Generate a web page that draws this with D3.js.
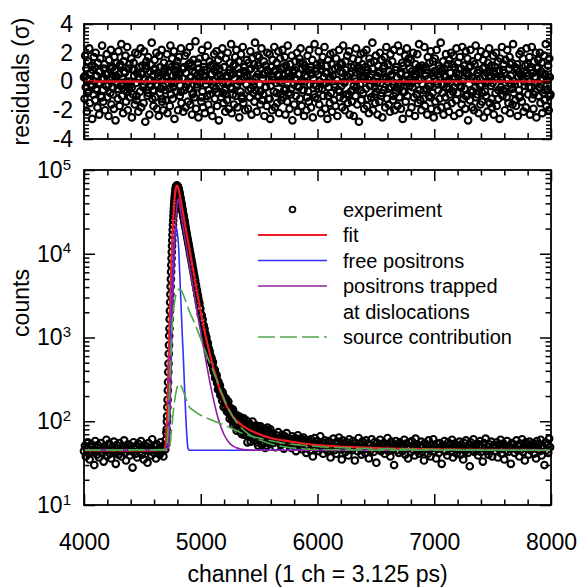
<!DOCTYPE html>
<html>
<head>
<meta charset="utf-8">
<script src="https://cdn.jsdelivr.net/npm/d3@7"></script>
<style>
  body { margin: 0; background: #fff; }
  svg { display: block; font-family: "Liberation Sans", Arial, sans-serif; }
</style>
</head>
<body>
<svg id="chart" width="577" height="588"></svg>
<script>
// residuals (sigma), one every 5 channels from 4000
const resStart = 4000, resStep = 5;
const residuals = [
0.3,-1.2,1.8,-0.4,0.9,-2.1,0.1,1.4,-0.7,2.3,-1.5,0.6,-0.2,1.1,-2.6,0.8,-0.9,1.7,0.0,-1.3,
2.0,-0.5,0.4,-1.8,1.3,-0.1,-2.3,0.7,1.6,-1.0,0.2,2.5,-0.6,-1.4,0.9,1.2,-2.0,0.5,-0.3,1.9,
-1.1,0.6,-2.4,1.5,0.1,-0.8,2.2,-1.6,0.3,1.0,-0.4,-1.9,1.7,0.8,-2.7,0.4,1.3,-0.2,-1.2,2.1,
0.5,-1.7,1.1,-0.3,2.6,-1.0,0.2,-2.2,1.4,0.7,-0.6,1.8,-1.4,0.0,2.4,-2.0,0.9,-0.5,1.2,-1.1,
-0.2,1.6,-2.5,0.8,-0.9,1.3,0.4,-1.6,2.0,-0.1,-1.3,0.6,1.9,-2.1,0.3,1.0,-0.7,2.3,-1.8,0.5,
1.1,-0.4,-1.5,2.1,0.2,-2.8,0.9,1.4,-0.6,-1.0,1.7,0.1,-2.3,0.7,1.2,-0.3,2.7,-1.2,0.4,-1.7,
0.8,1.5,-1.1,-0.2,2.0,-1.9,0.6,0.3,-2.4,1.8,-0.8,1.0,-0.5,2.2,-1.4,0.1,-2.0,1.3,0.9,-0.6,
-1.3,0.4,1.9,-2.2,0.7,-0.1,1.2,-1.7,2.5,-0.9,0.0,1.6,-1.2,-0.4,2.1,-2.6,0.8,1.1,-0.7,0.3,
1.4,-2.0,0.5,1.7,-1.0,-0.3,2.3,-1.5,0.9,0.2,-2.1,1.0,-0.6,1.8,-1.8,0.6,2.0,-0.2,-1.4,1.2,
-0.5,2.4,-1.6,0.3,1.1,-2.3,0.7,-0.8,1.5,-1.1,0.1,2.8,-1.9,0.4,-0.4,1.3,-2.5,0.9,1.6,-0.1,
0.6,-1.4,2.2,-0.7,-1.8,1.0,0.3,-2.2,1.7,-0.2,0.8,-1.0,2.5,-1.6,0.1,1.4,-0.9,-2.0,1.1,0.5,
-2.4,1.2,0.0,1.9,-1.2,0.7,-0.5,2.1,-1.7,0.4,1.5,-2.7,0.9,-0.3,1.8,-1.1,0.2,2.3,-0.8,-1.5,
1.0,-0.6,-2.1,1.6,0.4,-1.3,2.0,-0.1,-1.9,0.8,1.3,-0.4,2.6,-2.2,0.5,-0.9,1.1,-1.6,0.2,1.7,
-1.0,2.2,-0.3,-1.8,0.9,1.4,-2.5,0.6,-0.7,1.9,0.1,-1.2,2.4,-1.5,0.3,1.0,-2.0,0.7,-0.2,1.5,
0.4,-1.9,1.3,0.8,-1.1,2.1,-0.5,-2.3,1.6,0.0,-0.8,1.2,-1.4,2.7,-0.6,0.3,-2.1,1.8,0.5,-1.0,
1.7,-0.2,-1.6,0.9,2.3,-1.3,0.2,-0.9,1.4,-2.4,0.6,1.1,-0.4,-1.7,2.0,0.7,-1.2,0.1,1.9,-2.6,
-0.3,1.0,-2.0,1.5,0.3,-0.7,2.4,-1.8,0.8,-0.1,1.3,-1.5,0.5,2.1,-2.2,0.0,1.6,-0.9,-1.3,0.9,
2.2,-1.1,0.4,-0.6,1.7,-2.3,1.1,0.2,-1.4,2.5,-0.8,0.6,-1.9,1.2,0.3,-0.5,1.8,-2.7,0.7,-0.2,
-1.6,0.8,1.4,-1.0,0.1,2.0,-2.1,0.5,-0.4,1.6,-1.2,2.3,0.0,-1.7,0.9,1.3,-0.6,-2.4,1.1,0.4,
0.9,-2.0,0.3,1.8,-0.7,-1.4,2.2,-0.2,1.0,-1.8,0.6,1.5,-2.5,0.2,-0.9,2.6,-1.1,0.7,-0.3,1.2,
-1.2,0.5,2.1,-1.6,0.0,1.3,-2.2,0.8,-0.5,1.7,-1.0,0.3,2.4,-1.9,0.6,-0.1,1.1,-2.6,1.5,-0.4,
0.2,-1.5,1.9,-0.8,1.2,-2.1,0.4,2.0,-1.3,-0.2,0.9,-1.7,1.6,0.1,-2.4,1.0,-0.6,2.2,-1.1,0.7,
1.3,-0.3,-1.8,0.6,2.5,-1.2,0.0,-2.0,1.4,0.8,-0.9,1.8,-1.5,0.3,2.1,-2.3,0.5,-0.7,1.0,-1.4,
-0.6,1.6,-2.4,1.1,0.2,-1.0,2.3,-0.4,-1.6,0.9,1.5,-2.8,0.7,-0.2,1.9,-1.3,0.4,1.2,-0.8,2.0,
-1.9,0.3,1.0,-0.5,2.2,-1.7,0.8,0.1,-2.2,1.6,-0.3,1.3,-1.1,0.5,2.7,-2.0,0.0,1.4,-0.9,-1.5,
1.8,-0.7,0.4,-2.3,1.1,0.6,-1.4,2.0,-0.1,-1.0,1.5,-2.5,0.9,0.2,-0.6,1.7,-1.8,0.3,2.4,-1.2,
0.0,1.2,-1.6,0.7,-2.1,1.9,-0.4,0.5,1.4,-1.3,-0.2,2.2,-2.0,0.8,-0.8,1.0,0.3,-1.7,2.5,-0.5,
-1.1,2.1,-0.3,-1.9,0.6,1.3,-2.6,1.1,0.0,-0.7,1.8,-1.4,0.4,2.3,-1.0,-0.1,1.6,-2.2,0.9,0.2,
1.5,-1.8,0.7,-0.4,2.0,-1.1,0.3,-2.4,1.2,0.5,-0.9,1.9,-1.5,0.1,2.6,-0.6,-1.3,0.8,-2.0,1.1,
-0.2,0.9,-1.2,2.4,-1.7,0.4,1.0,-0.5,-2.3,1.7,0.2,-1.0,1.3,-0.3,2.1,-1.9,0.6,-0.8,1.4,-2.5,
0.7,1.6,-1.4,0.0,2.2,-2.0,0.5,-0.6,1.1,-1.2,0.3,2.7,-1.8,0.8,-0.2,1.4,-2.3,0.9,0.4,-1.1,
1.9,-0.4,-1.7,1.2,0.1,-2.1,1.5,-0.9,0.6,2.0,-1.5,0.2,-0.7,1.8,-2.4,1.0,0.3,-1.3,2.3,-0.1,
-0.8,1.3,0.5,-2.2,1.7,-0.3,0.9,-1.6,2.4,0.0,-1.2,1.1,-0.5,-1.9,2.1,0.6,-1.0,1.6,-2.7,0.4,
1.0,-1.3,2.2,-0.6,0.3,-1.8,1.4,0.7,-2.0,1.2,-0.4,2.5,-1.1,0.1,-0.9,1.7,-2.2,0.8,0.2,-1.6,
2.1,-0.2,-1.4,0.9,1.5,-2.5,0.4,-0.7,1.9,-1.0,0.6,-2.1,1.3,0.0,2.3,-1.5,0.7,-0.3,1.1,-1.8,
-0.1,1.8,-2.3,0.5,1.0,-0.8,2.0,-1.7,0.2,1.4,-1.2,0.8,-2.6,1.6,-0.4,0.3,2.4,-1.0,-0.6,1.2,
0.6,-2.0,1.5,-0.5,-1.1,2.2,0.1,-1.5,0.9,1.7,-2.2,0.4,-0.2,1.3,-1.6,2.6,-0.8,0.0,1.0,-1.3,
-1.7,0.8,1.2,-2.4,0.3,-0.6,1.9,-1.0,0.5,2.1,-1.4,0.2,1.6,-2.1,0.7,-0.3,1.1,-1.8,2.3,0.4,
1.2,-0.9,0.0,1.7,-2.3,1.0,-0.4,2.4,-1.2,0.6,-1.9,1.4,0.3,-0.7,2.0,-2.5,0.9,-0.1,1.5,-1.0,
-0.4,2.0,-1.5,0.7,1.3,-2.2,0.2,-0.8,1.8,-1.3,0.5,2.6,-1.7,0.1,-0.6,1.1,-2.0,1.6,0.3,-0.9
];
// extra residuals in between, one every 20 channels from 4010
const resFineStart = 4010, resFineStep = 20;
const residualsFine = [
0.4,-0.8,0.1,-0.3,1.0,-0.6,0.7,-1.1,0.2,0.5,-0.2,0.9,-0.9,0.3,-0.5,1.2,-0.1,0.6,-0.7,0.0,
-0.4,0.8,-1.0,0.3,0.6,-0.2,1.1,-0.8,0.1,-0.6,0.9,-0.3,0.4,-1.2,0.7,0.2,-0.5,1.0,-0.1,0.5,
0.2,-0.7,0.9,-0.4,0.0,1.3,-0.9,0.6,-0.2,0.3,-1.1,0.8,0.1,-0.6,0.5,-0.3,1.0,-0.8,0.4,-0.1,
-0.9,0.3,0.6,-0.5,1.2,-0.2,0.0,-1.0,0.7,0.4,-0.6,0.9,-0.3,0.2,1.1,-0.7,0.5,-0.4,0.8,-1.2,
0.1,0.7,-0.8,0.4,-0.1,1.0,-0.5,0.3,-0.9,0.6,0.2,-0.3,1.3,-0.6,0.0,-1.1,0.8,0.5,-0.2,0.9,
-0.5,1.1,-0.2,0.6,-1.0,0.3,0.8,-0.4,0.1,-0.7,1.2,-0.1,0.4,-0.9,0.7,-0.3,0.0,1.0,-0.6,0.2,
0.6,-1.2,0.3,0.9,-0.4,-0.1,0.7,-0.8,1.1,0.2,-0.5,0.4,-1.0,0.8,-0.2,0.5,-0.7,0.1,1.3,-0.3,
-0.1,0.5,-0.9,1.0,0.2,-0.6,0.8,-0.3,-1.1,0.4,0.7,-0.2,0.9,-0.8,0.3,0.0,-0.5,1.2,-0.4,0.6,
0.9,-0.4,0.2,-1.0,0.5,1.1,-0.7,0.0,0.6,-0.3,-0.8,1.0,-0.1,0.4,-1.2,0.7,0.3,-0.6,0.1,0.8,
-0.7,0.2,1.2,-0.5,-0.2,0.9,-1.1,0.4,0.0,0.6,-0.4,0.8,-0.9,0.3,1.0,-0.2,0.5,-0.6,0.1,-1.0
];

// measured counts, four runs of channels
const bgLeftCounts = [ // 4000.. step 8
44,51,38,47,56,41,35,49,53,43,46,30,58,45,40,52,37,48,55,42,
47,33,50,44,60,39,46,54,41,36,49,45,57,43,31,52,47,40,55,44,
38,50,46,59,42,34,48,53,45,39,51,44,28,56,47,41,49,37,54,46,
43,58,40,47,35,52,45,50,32,55,44,48,39,61,46,42,50,36,53,45,
47,40,56,43,49,38,52,46
];
const peakCounts = [ // 4700.. step 2
52,60,61,73,80,99,115,147,180,234,293,386,488,640,810,1050,1280,1655,2080,2630,
3270,4060,4970,6080,7320,8810,10460,12370,14460,16830,19370,22170,25140,28340,31630,35080,38540,42050,45490,48870,
52030,55020,57670,60010,61920,63430,64410,64950,65010,64790,64310,63590,62710,61590,60310,58880,57410,55790,54110,52390,
50710,48990,47310,45690,44110,42490,41010,39490,38010,36590,35210,33930,32740,31550,30440,29340,28310,27280,26320,25360,
24480,23580,22760,21930,21160
];
const tailCounts = [ // 4872.. step 4
19710,18320,17110,15870,14830,13750,12880,11930,11170,10330,9690,8960,8410,7760,7300,6720,6340,5810,5490,5040,
4770,4350,4140,3760,3600,3250,3120,2877,2601,2568,2288,2188,1905,1883,1825,1631,1653,1410,1401,1289,
1258,1058,1103,983,1005,895,811,862,751,737,642,688,618,534,576,567,481,481,510,424,
390,418,407,329,361,331,355,287,304,240,293,260,234,269,205,227,231,203,176,221,
202,148,185,191,166,148,186,160,131,161,140,172,126,137,107,145,134,116,141,103,
115,138,90,119,103,119,94,102,119,77,108,90,111,101,80,114,92,80,97,108,
70,91,97,81,108,69,90,95,80,69,102,84,56,88,92,74,70,93,78,57,
83,87,73,99,65,78,60,81,86,64,71,89,56,77,74,51,86,63,78,65,
87,57,69,52,78,75,62,56,70,81,48,71,64,75,51,84,57,64,76,54,
60,80
];
const bgRightCounts = [ // 5600.. step 8
58,66,71,55,63,49,68,60,74,57,64,52,69,61,47,66,58,72,55,62,
53,61,48,66,57,51,63,44,59,68,54,50,62,57,46,64,55,60,42,58,
49,57,45,61,52,38,55,63,47,53,58,44,50,66,48,56,41,54,59,46,
52,44,58,48,37,55,50,62,45,53,41,57,49,64,46,51,35,59,47,54,
43,56,50,39,61,47,53,45,58,49,34,55,51,44,63,48,52,40,57,46,
50,42,59,47,54,36,52,45,61,49,43,56,48,32,55,51,46,60,44,53,
47,55,41,52,48,63,44,50,38,57,46,53,30,49,58,45,51,42,56,48,
52,44,49,60,40,54,47,36,56,50,43,58,46,51,39,62,48,53,45,41,
49,57,43,51,34,55,47,52,41,59,46,38,53,48,61,44,50,36,54,47,
42,55,48,31,52,45,58,44,50,39,56,47,53,43,60,37,49,54,46,41,
51,46,57,40,53,48,35,55,44,59,47,42,52,29,56,49,45,61,43,50,
46,54,39,51,58,43,48,33,55,47,62,44,50,40,53,46,57,38,49,52,
44,49,56,37,52,46,60,41,48,54,35,51,45,58,43,50,47,31,55,48,
53,42,47,59,45,50,38,54,46,61,43,49,34,56,48,52,40,57,45,51,
47,55,41,50,36,58,46,53,44,60,39,51,48,30,56,45,52,42,62,49
];

// model curves [channel, counts]
const fitCurve = [[4000,45],[4600,45],[4680,45.1],[4685,45.4],[4690,46.2],[4695,48.3],[4700,53.7],[4705,66.8],[4710,97],[4715,162],[4720,296],[4725,559],[4730,1046],[4735,1900],[4740,3275],[4745,5505],[4750,8800],[4755,13390],[4760,19380],[4765,26720],[4770,35070],[4775,43800],[4780,52040],[4785,58900],[4790,63420],[4795,65000],[4800,64300],[4805,62200],[4810,58900],[4820,50700],[4830,42500],[4840,35200],[4850,29350],[4860,24470],[4868,21150],[4880,17078],[4900,11958],[4920,8373],[4936,6296],[4960,4094],[4980,2861],[5000,1999],[5020,1467],[5052,895],[5076,654],[5100,477],[5132,336],[5164,236],[5192,191],[5220,154],[5250,130],[5280,111],[5320,98],[5350,90],[5385,84],[5422,78],[5480,72],[5550,66],[5600,63],[5707,59],[5850,55],[5993,52],[6250,49.5],[6565,47.5],[7000,46.3],[7500,45.6],[8000,45.2]];
const freeCurve = [[4000,45],[4690,45],[4700,45.2],[4708,46.4],[4718,56],[4728,124],[4738,475],[4748,1785],[4758,5145],[4768,11045],[4778,17645],[4783,19800],[4788,20500],[4793,20000],[4800,17500],[4810,12300],[4820,5800],[4830,2700],[4842,1060],[4851,575],[4860,280],[4870,130],[4880,70],[4890,48],[4900,45.5],[4920,45],[8000,45]];
const trappedCurve = [[4000,45],[4700,45],[4708,45.2],[4718,47],[4728,60],[4738,143],[4748,545],[4758,2025],[4768,6145],[4778,14645],[4788,27345],[4798,40000],[4803,44000],[4808,45000],[4813,43000],[4820,37500],[4835,27500],[4850,20200],[4875,12400],[4900,7700],[4925,4740],[4950,2930],[4975,1810],[5000,1165],[5025,738],[5050,475],[5075,310],[5100,208],[5125,146],[5150,107],[5175,84],[5200,69],[5250,54],[5300,48.5],[5350,46.3],[5400,45.5],[5500,45],[8000,45]];
const sourceCurveA = [[4000,45],[4700,46],[4710,52],[4720,80],[4730,180],[4740,450],[4750,1000],[4760,1700],[4770,2300],[4780,2900],[4790,3350],[4805,3700],[4817,3800],[4830,3700],[4860,3000],[4900,2100],[4950,1450],[5008,900],[5050,620],[5100,420],[5150,280],[5200,185],[5250,130],[5300,100],[5400,72],[5500,60],[5700,50],[6000,46],[7000,45],[8000,45]];
const sourceCurveB = [[4000,45],[4720,45.5],[4735,50],[4750,80],[4770,150],[4790,230],[4810,275],[4822,280],[4840,250],[4870,190],[4900,150],[4936,135],[5000,118],[5136,98],[5250,84],[5364,71],[5500,63],[5700,55],[6000,50],[6500,47],[7000,46],[8000,45]];

const legendLabels = ["experiment", "fit", "free positrons", "positrons trapped|at dislocations", "source contribution"];
const legendColors = ["#000", "#ee1c25", "#3030ff", "#8e1f9e", "#4ea84a"];
const resTicks = [-4, -2, 0, 2, 4];
const chTicks = [4000, 5000, 6000, 7000, 8000];
const decadeTicks = [10, 100, 1000, 10000, 100000];

const svg = d3.select("#chart");
const x = d3.scaleLinear().domain([4000, 8000]).range([84, 551]);
const yRes = d3.scaleLinear().domain([-4, 4]).range([139, 24]);
const yCnt = d3.scaleLog().domain([10, 1e5]).range([505, 170]);

const minorCh = d3.range(4000, 8001, 200).filter(d => d % 1000 !== 0);
const minorRes = d3.range(-4, 4.001, 0.25).filter(d => Math.abs(d % 2) > 1e-6);
const minorDec = [];
[10, 100, 1000, 10000].forEach(b => { for (let k = 2; k <= 9; k++) minorDec.push(b * k); });

function addAxis(gen, tx, ty) {
  const g = svg.append("g").attr("transform", `translate(${tx},${ty})`).call(gen);
  g.select(".domain").remove();
  g.selectAll(".tick line").attr("stroke", "#000").attr("stroke-width", 1.5);
  g.selectAll(".tick text").attr("font-size", 23).attr("fill", "#000").attr("font-family", null);
  return g;
}

const dotR = 3.3, dotW = 2.1;

// ---------- top panel: residuals ----------
const resPoints = residuals.map((v, i) => [resStart + i * resStep, v])
  .concat(residualsFine.map((v, i) => [resFineStart + i * resFineStep, v]));

svg.append("g").selectAll("circle")
  .data(resPoints)
  .join("circle")
  .attr("cx", d => x(d[0]))
  .attr("cy", d => yRes(d[1]))
  .attr("r", dotR)
  .attr("fill", "none")
  .attr("stroke", "#000")
  .attr("stroke-width", dotW);

svg.append("line")
  .attr("x1", x(4000)).attr("x2", x(8000))
  .attr("y1", yRes(0)).attr("y2", yRes(0))
  .attr("stroke", "#e0181e").attr("stroke-width", 2.4);

addAxis(d3.axisBottom(x).tickValues(chTicks).tickSize(-10).tickFormat(""), 0, 139);
addAxis(d3.axisBottom(x).tickValues(minorCh).tickSize(-6).tickFormat(""), 0, 139);
addAxis(d3.axisTop(x).tickValues(chTicks).tickSize(-10).tickFormat(""), 0, 24);
addAxis(d3.axisTop(x).tickValues(minorCh).tickSize(-6).tickFormat(""), 0, 24);
addAxis(d3.axisLeft(yRes).tickValues(resTicks).tickSize(-9).tickPadding(11).tickFormat(d => String(d)), 84, 0);
addAxis(d3.axisLeft(yRes).tickValues(minorRes).tickSize(-5).tickFormat(""), 84, 0);
addAxis(d3.axisRight(yRes).tickValues(resTicks).tickSize(-9).tickFormat(""), 551, 0);
addAxis(d3.axisRight(yRes).tickValues(minorRes).tickSize(-5).tickFormat(""), 551, 0);

svg.append("rect").attr("x", 84).attr("y", 24).attr("width", 467).attr("height", 115)
  .attr("fill", "none").attr("stroke", "#000").attr("stroke-width", 1.8);

svg.append("text")
  .attr("transform", `translate(29,${(24 + 139) / 2}) rotate(-90)`)
  .attr("text-anchor", "middle").attr("font-size", 23)
  .text("residuals (σ)");

// ---------- bottom panel: counts ----------
const expSegments = [
  { start: 4000, step: 8, counts: bgLeftCounts },
  { start: 4700, step: 2, counts: peakCounts },
  { start: 4872, step: 4, counts: tailCounts },
  { start: 5600, step: 8, counts: bgRightCounts }
];
const expPoints = expSegments.flatMap(s => s.counts.map((v, i) => [s.start + i * s.step, v]));

svg.append("g").selectAll("circle")
  .data(expPoints)
  .join("circle")
  .attr("cx", d => x(d[0]))
  .attr("cy", d => yCnt(d[1]))
  .attr("r", dotR)
  .attr("fill", "none")
  .attr("stroke", "#000")
  .attr("stroke-width", dotW);

const line = d3.line()
  .x(d => x(d[0]))
  .y(d => yCnt(d[1]))
  .curve(d3.curveMonotoneX);

const curves = [
  { data: fitCurve, color: legendColors[1], w: 2.2, dash: null },
  { data: freeCurve, color: legendColors[2], w: 1.6, dash: null },
  { data: trappedCurve, color: legendColors[3], w: 1.6, dash: null },
  { data: sourceCurveA, color: legendColors[4], w: 1.6, dash: "17,5" },
  { data: sourceCurveB, color: legendColors[4], w: 1.6, dash: "17,5" }
];
svg.append("g").selectAll("path")
  .data(curves)
  .join("path")
  .attr("d", d => line(d.data))
  .attr("fill", "none")
  .attr("stroke", d => d.color)
  .attr("stroke-width", d => d.w)
  .attr("stroke-dasharray", d => d.dash);

addAxis(d3.axisBottom(x).tickValues(chTicks).tickSize(-11).tickPadding(29).tickFormat(d => String(d)), 0, 505);
addAxis(d3.axisBottom(x).tickValues(minorCh).tickSize(-5.5).tickFormat(""), 0, 505);
addAxis(d3.axisTop(x).tickValues(chTicks).tickSize(-11).tickFormat(""), 0, 170);
addAxis(d3.axisTop(x).tickValues(minorCh).tickSize(-5.5).tickFormat(""), 0, 170);

const yl = addAxis(d3.axisLeft(yCnt).tickValues(decadeTicks).tickSize(-11).tickPadding(13).tickFormat(""), 84, 0);
yl.selectAll(".tick text").each(function (d) {
  const t = d3.select(this);
  t.append("tspan").text("10");
  t.append("tspan").attr("dy", "-0.55em").attr("font-size", 15).text(Math.round(Math.log10(d)));
});
addAxis(d3.axisLeft(yCnt).tickValues(minorDec).tickSize(-5.5).tickFormat(""), 84, 0);
addAxis(d3.axisRight(yCnt).tickValues(decadeTicks).tickSize(-11).tickFormat(""), 551, 0);
addAxis(d3.axisRight(yCnt).tickValues(minorDec).tickSize(-5.5).tickFormat(""), 551, 0);

svg.append("rect").attr("x", 84).attr("y", 170).attr("width", 467).attr("height", 335)
  .attr("fill", "none").attr("stroke", "#000").attr("stroke-width", 1.8);

svg.append("text")
  .attr("transform", "translate(29,303) rotate(-90)")
  .attr("text-anchor", "middle").attr("font-size", 23)
  .text("counts");

svg.append("text")
  .attr("x", (84 + 551) / 2).attr("y", 582)
  .attr("text-anchor", "middle").attr("font-size", 23)
  .text("channel (1 ch = 3.125 ps)");

// ---------- legend ----------
const legRows = [209.5, 235, 260.5, 286, 337];
const leg = svg.append("g");
legendLabels.forEach((lab, i) => {
  const y = legRows[i];
  if (i === 0) {
    leg.append("circle").attr("cx", 292.5).attr("cy", y).attr("r", 2.9)
      .attr("fill", "none").attr("stroke", "#000").attr("stroke-width", 1.8);
  } else {
    leg.append("line").attr("x1", 258).attr("x2", 327).attr("y1", y).attr("y2", y)
      .attr("stroke", legendColors[i]).attr("stroke-width", i === 1 ? 2 : 1.6)
      .attr("stroke-dasharray", i === 4 ? "17,5" : null);
  }
  const t = leg.append("text").attr("x", 343).attr("y", y).attr("dy", "0.35em").attr("font-size", 20);
  lab.split("|").forEach((part, k) => {
    t.append("tspan").attr("x", 343).attr("dy", k === 0 ? null : 25.5).text(part);
  });
});
</script>
</body>
</html>
